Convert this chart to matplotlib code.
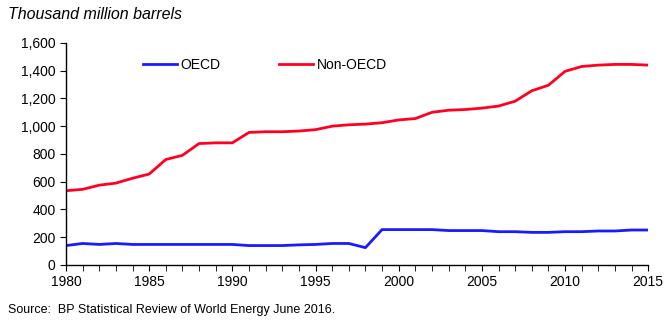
import matplotlib.pyplot as plt
from matplotlib.ticker import FuncFormatter, MultipleLocator

plt.rcParams['font.family'] = ['Liberation Sans', 'DejaVu Sans']

years = list(range(1980, 2016))
oecd = [140, 155, 148, 155, 148, 148, 148, 148, 148, 148, 148, 140, 140, 140, 145, 148,
        155, 155, 125, 255, 255, 255, 255, 248, 248, 248, 240, 240, 235, 235, 240, 240,
        245, 245, 252, 252]
non_oecd = [535, 545, 575, 590, 625, 655, 760, 790, 875, 880, 880, 955, 960, 960, 965, 975,
            1000, 1010, 1015, 1025, 1045, 1055, 1100, 1115, 1120, 1130, 1145, 1180, 1255, 1295,
            1395, 1430, 1440, 1445, 1445, 1440]

fig = plt.figure(figsize=(6.7, 3.3), dpi=100)
ax = fig.add_axes([0.0985, 0.197, 0.869, 0.673])

ax.plot(years, oecd, color='#1a1aff', lw=2, label='OECD')
ax.plot(years, non_oecd, color='#ff0022', lw=2, label='Non-OECD')

ax.set_xlim(1980, 2015)
ax.set_ylim(0, 1600)
ax.xaxis.set_major_locator(MultipleLocator(5))
ax.xaxis.set_minor_locator(MultipleLocator(1))
ax.yaxis.set_major_locator(MultipleLocator(200))
ax.yaxis.set_major_formatter(FuncFormatter(lambda v, p: f'{int(v):,}'))
ax.tick_params(axis='both', which='both', direction='out', labelsize=10, color='black')
ax.tick_params(axis='x', which='major', length=4, pad=3)
ax.tick_params(axis='x', which='minor', length=4)
ax.tick_params(axis='y', length=4)

for s in ['top', 'right']:
    ax.spines[s].set_visible(False)
for s in ['left', 'bottom']:
    ax.spines[s].set_color('black')
    ax.spines[s].set_linewidth(1)

ax.legend(loc='upper left', bbox_to_anchor=(0.11, 0.99), ncol=2, frameon=False,
          fontsize=10, handlelength=2.45, handletextpad=0.3, columnspacing=4.2)

fig.text(0.012, 0.955, 'Thousand million barrels', fontsize=11.5, style='italic', va='center')
fig.text(0.012, 0.06, 'Source:  BP Statistical Review of World Energy June 2016.', fontsize=9,
         va='center')

fig.savefig('out.png', dpi=100)
